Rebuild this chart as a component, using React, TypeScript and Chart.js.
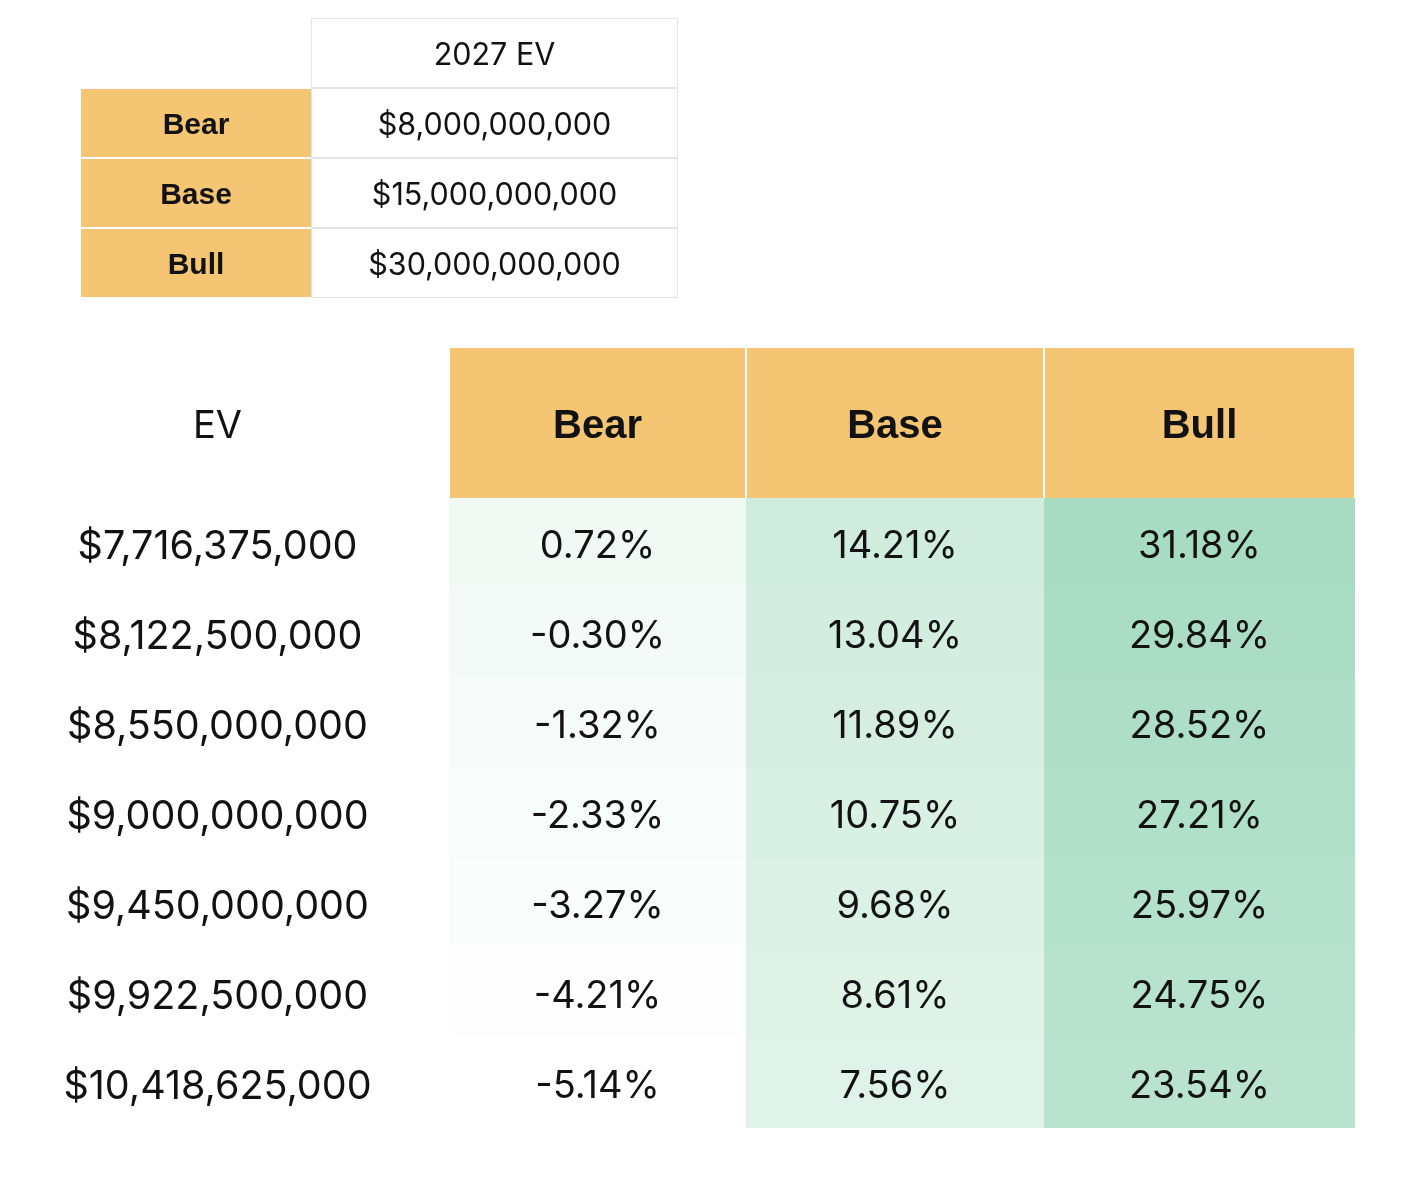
import React, { useEffect, useRef } from "react";
import { Chart, registerables } from "chart.js";

Chart.register(...registerables);

// ---------------- data ----------------
const SCENARIOS = ["Bear", "Base", "Bull"];
const EV_2027_HEADER = "2027 EV";
const EV_2027 = ["$8,000,000,000", "$15,000,000,000", "$30,000,000,000"];

const EV_HEADER = "EV";
const EV_ROWS = [
  "$7,716,375,000",
  "$8,122,500,000",
  "$8,550,000,000",
  "$9,000,000,000",
  "$9,450,000,000",
  "$9,922,500,000",
  "$10,418,625,000",
];
const BEAR_RETURNS = [0.72, -0.3, -1.32, -2.33, -3.27, -4.21, -5.14];
const BASE_RETURNS = [14.21, 13.04, 11.89, 10.75, 9.68, 8.61, 7.56];
const BULL_RETURNS = [31.18, 29.84, 28.52, 27.21, 25.97, 24.75, 23.54];

// ---------------- layout / style ----------------
const W = 1424;
const H = 1184;
const ORANGE = "#F4C674";
const GRID_GREY = "#E4E4E4";
const TEXT = "#121212";
const NUM_FONT = "Inter, Roboto, sans-serif";
const BOLD_FONT = "'Liberation Sans', Arial, sans-serif";

const TOP_AREA = { left: 81, top: 18, right: 678, bottom: 298 };
const TOP_WIDTHS = [230, 367];
const HEAD_AREA = { left: 0, top: 348, right: 1355, bottom: 498 };
const BODY_AREA = { left: 0, top: 498, right: 1355, bottom: 1128 };
const BODY_WIDTHS = [435, 14, 297, 298, 311]; // EV label, spacer, Bear, Base, Bull

const HEAT_HIGH = [87, 187, 138];
const HEAT_STRENGTH = 0.52;

const ALL_RETURNS = [...BEAR_RETURNS, ...BASE_RETURNS, ...BULL_RETURNS];
const R_MIN = Math.min(...ALL_RETURNS);
const R_MAX = Math.max(...ALL_RETURNS);

function heat(v: number): string {
  const t = ((v - R_MIN) / (R_MAX - R_MIN)) * HEAT_STRENGTH;
  const c = HEAT_HIGH.map((h) => Math.round(255 + (h - 255) * t));
  return `rgb(${c[0]},${c[1]},${c[2]})`;
}
const pct = (v: number) => `${v.toFixed(2)}%`;

const cellTextPlugin = {
  id: "cellText",
  afterDatasetsDraw(chart: any) {
    const ctx = chart.ctx;
    ctx.save();
    chart.data.datasets.forEach((ds: any, i: number) => {
      if (!ds.cellText) return;
      const meta = chart.getDatasetMeta(i);
      meta.data.forEach((el: any, j: number) => {
        const txt = ds.cellText[j];
        if (!txt) return;
        const { x, y, base } = el.getProps(["x", "y", "base"], true);
        ctx.font = ds.cellFont;
        ctx.fillStyle = TEXT;
        ctx.textAlign = "center";
        ctx.textBaseline = "middle";
        ctx.fillText(txt, (x + base) / 2, y + (ds.cellDy || 0));
      });
    });
    ctx.restore();
  },
};

function makeTable(
  canvas: HTMLCanvasElement,
  rows: string[],
  widths: number[],
  area: { left: number; top: number; right: number; bottom: number },
  columns: any[]
) {
  const total = widths.reduce((a, b) => a + b, 0);
  return new Chart(canvas, {
    type: "bar",
    data: {
      labels: rows,
      datasets: columns.map((col, i) => ({
        data: rows.map(() => widths[i]),
        backgroundColor: col.bg,
        borderColor: col.borderColor || "rgba(0,0,0,0)",
        borderWidth: col.borderWidth || 0,
        borderSkipped: false,
        inflateAmount: 0,
        barPercentage: 1,
        categoryPercentage: 1,
        cellText: col.text,
        cellFont: col.font,
        cellDy: col.dy || 0,
      })) as any,
    },
    options: {
      indexAxis: "y",
      responsive: false,
      maintainAspectRatio: false,
      animation: false,
      events: [],
      layout: {
        padding: {
          left: area.left,
          top: area.top,
          right: W - area.right,
          bottom: H - area.bottom,
        },
      },
      plugins: { legend: { display: false }, tooltip: { enabled: false } },
      scales: {
        x: { type: "linear", stacked: true, min: 0, max: total, display: false },
        y: { type: "category", stacked: true, display: false },
      },
    } as any,
    plugins: [cellTextPlugin],
  });
}

export default function App() {
  const topRef = useRef<HTMLCanvasElement>(null);
  const headRef = useRef<HTMLCanvasElement>(null);
  const bodyRef = useRef<HTMLCanvasElement>(null);

  useEffect(() => {
    let charts: Chart[] = [];
    let cancelled = false;
    const build = () => {
      if (cancelled) return;
      // ---- top scenario table ----
      const topRows = ["", ...SCENARIOS];
      charts.push(
        makeTable(topRef.current!, topRows, TOP_WIDTHS, TOP_AREA, [
          {
            bg: topRows.map((_, j) => (j === 0 ? "rgba(0,0,0,0)" : ORANGE)),
            borderColor: "#FFFFFF",
            borderWidth: { top: 1, bottom: 1, left: 0, right: 0 },
            text: topRows,
            font: `bold 30px ${BOLD_FONT}`,
            dy: 3,
          },
          {
            bg: "#FFFFFF",
            borderColor: GRID_GREY,
            borderWidth: 1,
            text: [EV_2027_HEADER, ...EV_2027],
            font: `30.5px ${NUM_FONT}`,
            dy: 3,
          },
        ])
      );
      // ---- bottom header ----
      charts.push(
        makeTable(headRef.current!, ["header"], BODY_WIDTHS, HEAD_AREA, [
          { bg: "rgba(0,0,0,0)", text: [EV_HEADER], font: `38px ${NUM_FONT}`, dy: 4 },
          { bg: "rgba(0,0,0,0)", text: [""], font: "" },
          ...SCENARIOS.map((s) => ({
            bg: ORANGE,
            borderColor: "#FFFFFF",
            borderWidth: { left: 1, right: 1, top: 0, bottom: 0 },
            text: [s],
            font: `bold 40px ${BOLD_FONT}`,
            dy: 4,
          })),
        ])
      );
      // ---- bottom heatmap ----
      const returns = [BEAR_RETURNS, BASE_RETURNS, BULL_RETURNS];
      charts.push(
        makeTable(bodyRef.current!, EV_ROWS, BODY_WIDTHS, BODY_AREA, [
          { bg: "rgba(0,0,0,0)", text: EV_ROWS, font: `39.5px ${NUM_FONT}`, dy: 4 },
          { bg: "rgba(0,0,0,0)", text: EV_ROWS.map(() => ""), font: "" },
          ...returns.map((vals) => ({
            bg: vals.map(heat),
            text: vals.map(pct),
            font: `38px ${NUM_FONT}`,
            dy: 4,
          })),
        ])
      );
    };
    const fontsReady = (document as any).fonts
      ? Promise.all([
          (document as any).fonts.load("38px Inter"),
          (document as any).fonts.load("bold 38px 'Liberation Sans'"),
        ]).catch(() => null)
      : Promise.resolve(null);
    fontsReady.then(build);
    return () => {
      cancelled = true;
      charts.forEach((c) => c.destroy());
      charts = [];
    };
  }, []);

  const canvasStyle: React.CSSProperties = {
    position: "absolute",
    left: 0,
    top: 0,
    width: W,
    height: H,
  };
  return (
    <div style={{ position: "absolute", left: 0, top: 0, width: W, height: H, background: "#FFFFFF" }}>
      <canvas ref={topRef} width={W} height={H} style={canvasStyle} />
      <canvas ref={headRef} width={W} height={H} style={canvasStyle} />
      <canvas ref={bodyRef} width={W} height={H} style={canvasStyle} />
    </div>
  );
}
